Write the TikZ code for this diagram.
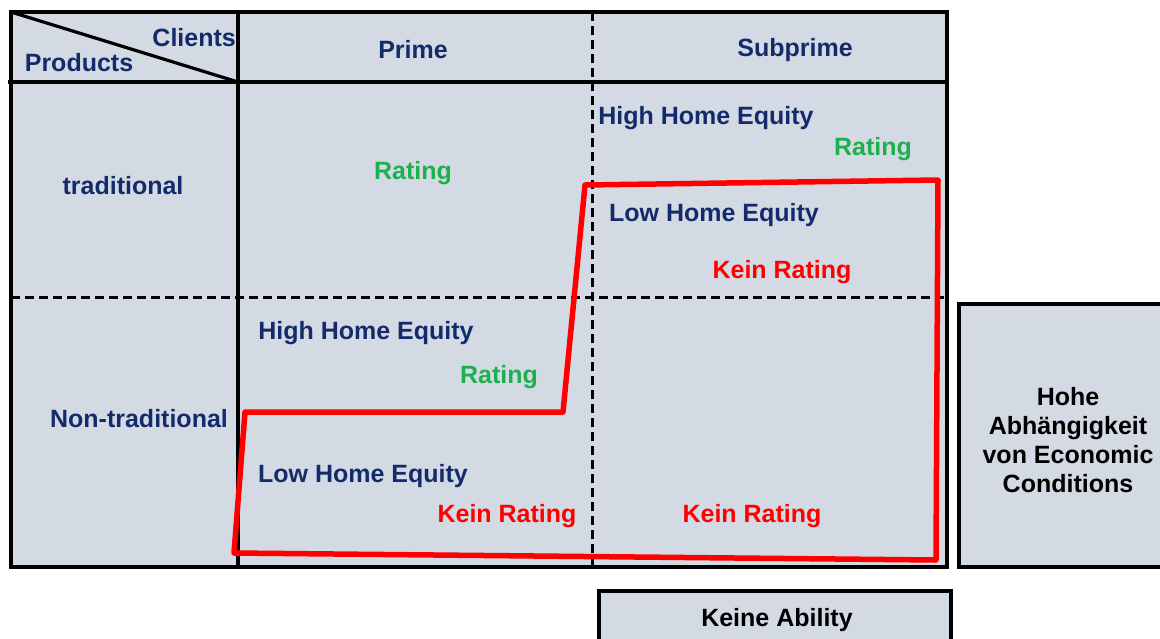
\documentclass[tikz,border=0pt]{standalone}
\usepackage{fontspec}
\setmainfont{Liberation Sans}
\usetikzlibrary{positioning}

\definecolor{cellgray}{HTML}{D4DAE4}
\definecolor{navytext}{HTML}{142B6B}
\definecolor{ratinggreen}{HTML}{1DB04E}

\tikzset{
  cell/.style={fill=cellgray,draw=black,line width=3.2pt},
  grid/.style={line width=3.2pt},
  split/.style={line width=3pt,dash pattern=on 9pt off 5pt},
  lbl/.style={font=\fontsize{25}{29}\selectfont\bfseries,text=navytext,inner sep=0pt},
  ok/.style={lbl,text=ratinggreen},
  nok/.style={lbl,text=red},
  note/.style={lbl,text=black,align=center},
}

\begin{document}
\begin{tikzpicture}[x=1pt,y=-1pt]
\clip (0,0) rectangle (1160,638);

% Table
\draw[cell] (11,12) rectangle (947,567);
\draw[grid] (238,12) -- (238,567);
\draw[grid] (8,82) -- (947,82);
\draw[grid] (11,12) -- (238,82);
\draw[split] (592,12) -- (592,567);
\draw[split] (11,297) -- (947,297);

% Header
\node[lbl,anchor=east] (clients) at (236,38) {Clients};
\node[lbl] (products) at (79,63) {Products};
\node[lbl] (prime) at (413,50) {Prime};
\node[lbl] (subprime) at (795,50) {Subprime};
\node[lbl] (trad) at (123,186) {traditional};
\node[lbl] (nontrad) at (139,419) {Non-traditional};

% Subprime / traditional
\node[lbl] (shigh) at (706,118) {High Home Equity};
\node[ok] (sok) at (873,149) {Rating};
\node[lbl] (slow) at (714,215) {Low Home Equity};
\node[nok] (snok) at (782,272) {Kein Rating};

% Prime / traditional
\node[ok] (pok) at (413,173) {Rating};

% Prime / non-traditional
\node[lbl] (nhigh) at (366,333) {High Home Equity};
\node[ok] (nok) at (499,377) {Rating};
\node[lbl] (nlow) at (363,476) {Low Home Equity};
\node[nok] (nnok) at (507,516) {Kein Rating};

% Subprime / non-traditional
\node[nok] (snnok) at (752,516) {Kein Rating};

% Red boundary
\draw[red,line width=5.5pt,line join=round] (585,185) -- (938,180) -- (936,560)
  -- (234,553) -- (245,412) -- (563,412) -- cycle;

% Side boxes
\draw[cell] (959,304) rectangle (1175,567);
\node[note] (econ) at (1068,440) {Hohe\\Abhängigkeit\\von Economic\\Conditions};
\draw[cell] (599,591) rectangle (951,650);
\node[note] (ability) at (777,620) {Keine Ability};
\end{tikzpicture}
\end{document}
